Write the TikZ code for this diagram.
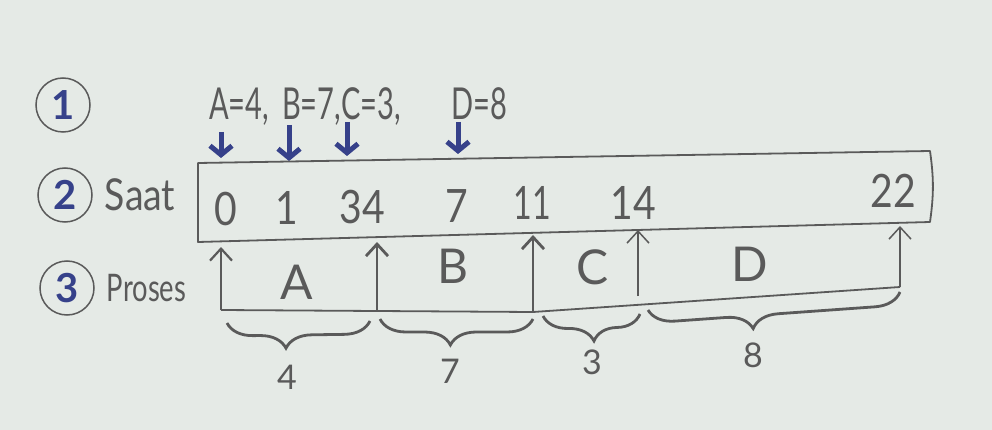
\documentclass[tikz,border=0pt]{standalone}
\usepackage{fontspec}
\setmainfont{Lato}
\usetikzlibrary{arrows.meta, positioning, calc, decorations.pathreplacing}

\definecolor{pencil}{HTML}{5A5A5A}
\definecolor{marker}{HTML}{36418A}
\definecolor{board}{HTML}{E5EAE6}
\newcommand{\hsqueeze}[2][0.8]{\scalebox{#1}[1]{#2}}

\begin{document}
\begin{tikzpicture}[
    x=1pt, y=-1pt,
    step_circle/.style={circle, draw=pencil, line width=1.5pt, minimum size=54pt, inner sep=0pt, text=marker, font=\fontsize{40}{40}\selectfont\bfseries},
    row_label/.style={text=pencil, inner sep=0pt},
    arrive_val/.style={text=pencil, inner sep=0pt, anchor=base west, font=\fontsize{44}{44}\selectfont},
    time_val/.style={text=pencil, inner sep=0pt, font=\fontsize{46}{46}\selectfont},
    proc_name/.style={text=pencil, inner sep=0pt, font=\fontsize{48}{48}\selectfont},
    burst_val/.style={text=pencil, inner sep=0pt, font=\fontsize{34}{34}\selectfont},
    arrive_path/.style={draw=marker, line width=5pt, -{Straight Barb[length=9pt, width=22pt]}},
    end_path/.style={draw=pencil, line width=1.8pt, -{Straight Barb[length=12pt, width=22pt]}},
    box_line/.style={draw=pencil, line width=1.8pt, line join=round},
    brace_path/.style={draw=pencil, line width=2.8pt, decorate, decoration={brace, mirror, amplitude=26pt, aspect=#1}}
  ]
    \fill[board] (0,0) rectangle (992,430);
    \useasboundingbox (0,0) rectangle (992,430);

    % steps
    \node[step_circle] (c1) at (63,105) {1};
    \node[step_circle] (c2) at (65,195) {2};
    \node[step_circle] (c3) at (67,288) {3};
    \node[row_label, right=12pt of c2, font=\fontsize{44}{44}\selectfont] (saat) {\hsqueeze[0.85]{Saat}};
    \node[row_label, right=12pt of c3, font=\fontsize{38}{38}\selectfont] (proses) {\hsqueeze[0.72]{Proses}};

    % arrival times
    \node[arrive_val] (qa) at (209,120) {\hsqueeze[0.66]{A=4,}};
    \node[arrive_val] (qb) at (282,120) {\hsqueeze[0.66]{B=7,}};
    \node[arrive_val] (qc) at (341,120) {\hsqueeze[0.66]{C=3,}};
    \node[arrive_val] (qd) at (451,120) {\hsqueeze[0.66]{D=8}};

    \coordinate (sA) at (221,132);
    \coordinate (sB) at (289,125);
    \coordinate (sC) at (347,122);
    \coordinate (sD) at (458,122);
    \coordinate (eA) at (221,158);
    \coordinate (eB) at (289,161);
    \coordinate (eC) at (347,156);
    \coordinate (eD) at (458,154);
    \draw[arrive_path] (sA) -- (eA);
    \draw[arrive_path] (sB) -- (eB);
    \draw[arrive_path] (sC) -- (eC);
    \draw[arrive_path] (sD) -- (eD);

    % time box
    \coordinate (bx1) at (198,163);
    \coordinate (bx2) at (930,151);
    \coordinate (bx3) at (930,222);
    \coordinate (bx4) at (198,242);
    \draw[box_line] (bx1) -- (bx2) to[bend left=8] (bx3) -- (bx4) -- cycle;

    \node[time_val] (t0) at (226,209) {\hsqueeze[0.85]{0}};
    \node[time_val] (t1) at (287,208) {\hsqueeze[0.85]{1}};
    \node[time_val] (t34) at (362,207) {\hsqueeze[0.85]{34}};
    \node[time_val] (t7) at (457,206) {\hsqueeze[0.85]{7}};
    \node[time_val] (t11) at (532,203) {\hsqueeze[0.7]{11}};
    \node[time_val] (t14) at (633,203) {\hsqueeze[0.85]{14}};
    \node[time_val] (t22) at (893,191) {\hsqueeze[0.85]{22}};

    % processes
    \node[proc_name] (pA) at (297,282) {A};
    \node[proc_name] (pB) at (453,266) {B};
    \node[proc_name] (pC) at (593,267) {C};
    \node[proc_name] (pD) at (750,264) {D};

    \coordinate (u0) at (221,310);
    \coordinate (u1) at (377,311);
    \coordinate (u2) at (533,312);
    \coordinate (u3) at (638,296);
    \coordinate (u4) at (900,287);
    \coordinate (v0) at (221,247);
    \coordinate (v1) at (377,242);
    \coordinate (v2) at (533,235);
    \coordinate (v3) at (638,230);
    \coordinate (v4) at (900,226);

    \draw[box_line] (u0) -- (u2) -- (u4);
    \draw[end_path, line width=2.2pt] (u0) -- (v0);
    \draw[end_path, line width=2.8pt] (u1) -- (v1);
    \draw[end_path, line width=2.8pt] (u2) -- (v2);
    \draw[end_path, line width=1.5pt] (u3) -- (v3);
    \draw[end_path, line width=1.5pt] (u4) -- (v4);

    % burst lengths
    \coordinate (k0) at (227,323);
    \coordinate (k1) at (370,321);
    \coordinate (k2) at (380,319);
    \coordinate (k3) at (533,319);
    \coordinate (k4) at (543,316);
    \coordinate (k5) at (640,314);
    \coordinate (k6) at (648,310);
    \coordinate (k7) at (900,292);
    \draw[brace_path=0.41] (k0) -- (k1);
    \draw[brace_path=0.46] (k2) -- (k3);
    \draw[brace_path=0.52] (k4) -- (k5);
    \draw[brace_path=0.41] (k6) -- (k7);

    \node[burst_val] (n4) at (287,377) {4};
    \node[burst_val] (n7) at (450,371) {7};
    \node[burst_val] (n3) at (592,362) {3};
    \node[burst_val] (n8) at (753,355) {8};
  \end{tikzpicture}
\end{document}
